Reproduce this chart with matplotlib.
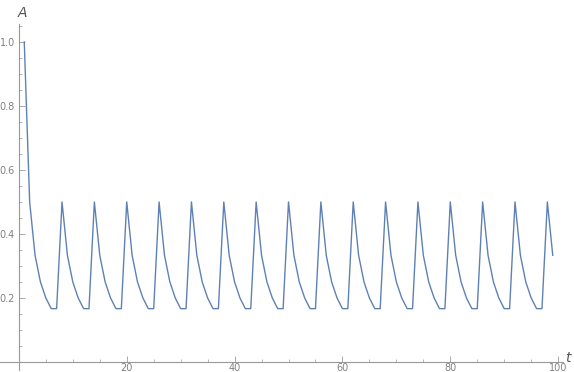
import matplotlib
matplotlib.use("Agg")
import matplotlib.pyplot as plt
from matplotlib.ticker import MultipleLocator

# time steps 1..99 and the value
t = list(range(1, 100))
A = [1.0, 0.5, 0.3333, 0.25, 0.2, 0.1667, 0.1667,
     0.5, 0.3333, 0.25, 0.2, 0.1667, 0.1667,
     0.5, 0.3333, 0.25, 0.2, 0.1667, 0.1667,
     0.5, 0.3333, 0.25, 0.2, 0.1667, 0.1667,
     0.5, 0.3333, 0.25, 0.2, 0.1667, 0.1667,
     0.5, 0.3333, 0.25, 0.2, 0.1667, 0.1667,
     0.5, 0.3333, 0.25, 0.2, 0.1667, 0.1667,
     0.5, 0.3333, 0.25, 0.2, 0.1667, 0.1667,
     0.5, 0.3333, 0.25, 0.2, 0.1667, 0.1667,
     0.5, 0.3333, 0.25, 0.2, 0.1667, 0.1667,
     0.5, 0.3333, 0.25, 0.2, 0.1667, 0.1667,
     0.5, 0.3333, 0.25, 0.2, 0.1667, 0.1667,
     0.5, 0.3333, 0.25, 0.2, 0.1667, 0.1667,
     0.5, 0.3333, 0.25, 0.2, 0.1667, 0.1667,
     0.5, 0.3333, 0.25, 0.2, 0.1667, 0.1667,
     0.5, 0.3333, 0.25, 0.2, 0.1667, 0.1667,
     0.5, 0.3333]
x_ticks = [20, 40, 60, 80, 100]
y_ticks = [0.2, 0.4, 0.6, 0.8, 1.0]

axis_gray = "#999999"
label_gray = "#808080"

fig = plt.figure(figsize=(5.74, 3.72), dpi=100)
ax = fig.add_axes([0.0, 2 / 372, 563 / 574, 346 / 372])

ax.plot(t, A, color="#5E81B5", lw=1.0)

ax.set_xlim(-3.5, 100.9)
ax.set_ylim(-0.025, 1.056)

# Mathematica style axes crossing at the origin
for side in ["top", "right"]:
    ax.spines[side].set_visible(False)
ax.spines["left"].set_position(("data", 0))
ax.spines["bottom"].set_position(("data", 0))
for side in ["left", "bottom"]:
    ax.spines[side].set_color(axis_gray)
    ax.spines[side].set_linewidth(0.8)

ax.set_xticks(x_ticks)
ax.set_xticklabels([str(v) for v in x_ticks])
ax.set_yticks(y_ticks)
ax.set_yticklabels(["%.1f" % v for v in y_ticks])
ax.xaxis.set_minor_locator(MultipleLocator(5))
ax.yaxis.set_minor_locator(MultipleLocator(0.05))
ax.tick_params(which="major", direction="in", length=4, width=0.6,
               color=axis_gray, labelcolor=label_gray, labelsize=7, pad=3)
ax.tick_params(axis="x", which="major", pad=1)
ax.tick_params(which="minor", direction="in", length=2, width=0.5,
               color=axis_gray)
ax.patch.set_alpha(0)

fig.text(18 / 574, 1 - 13 / 372, "A", fontsize=10, style="italic",
         color="#555555", ha="left", va="center")
fig.text(565 / 574, 1 - 358 / 372, "t", fontsize=10, style="italic",
         color="#555555", ha="left", va="center")

fig.savefig("out.png", dpi=100)
